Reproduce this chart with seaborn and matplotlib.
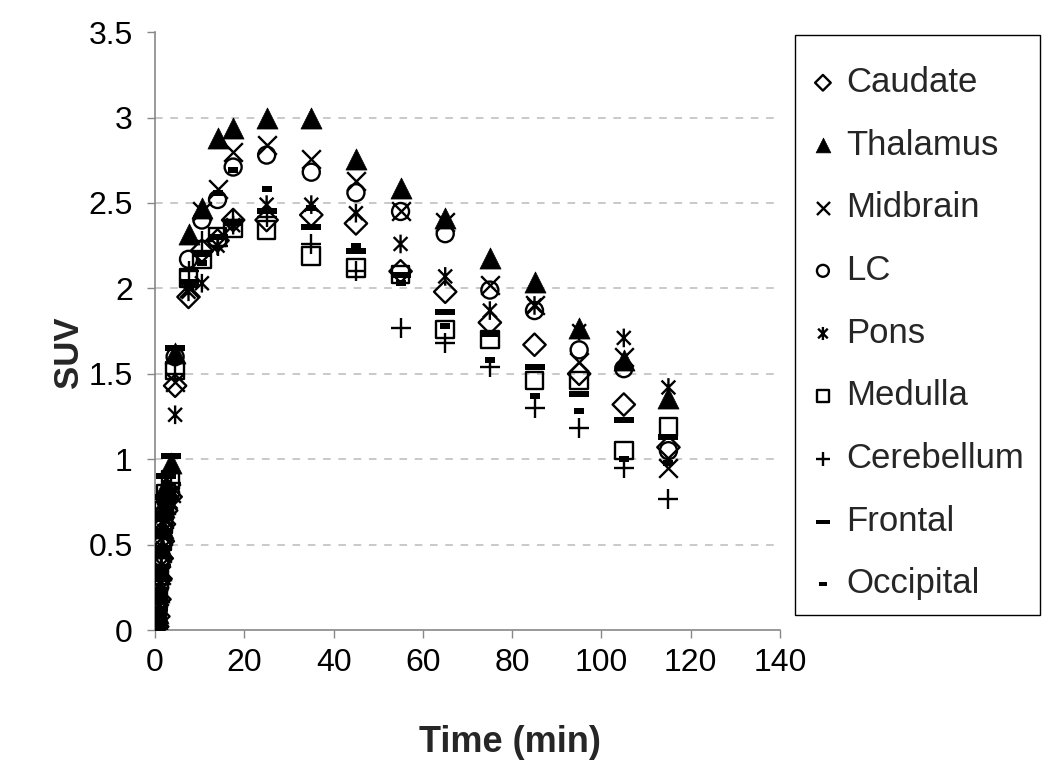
import numpy as np
import pandas as pd
import matplotlib
matplotlib.use("Agg")
import matplotlib.pyplot as plt
from matplotlib.path import Path
from matplotlib.patches import Rectangle
import seaborn as sns

# frame mid-times (min)
time_min = [0.25, 0.5, 0.75, 1, 1.25, 1.5, 1.75, 2, 2.5, 3.5, 4.5,
            7.5, 10.5, 14, 17.5, 25, 35, 45, 55, 65, 75, 85, 95, 105, 115]

# SUV per region
caudate = [0.0, 0.02, 0.08, 0.18, 0.3, 0.42, 0.52, 0.62, 0.7, 0.78, 1.43,
           1.95, 2.22, 2.28, 2.4, 2.4, 2.43, 2.38, 2.1, 1.98, 1.8, 1.67, 1.5, 1.32, 1.07]
thalamus = [0.0, 0.03, 0.1, 0.22, 0.35, 0.48, 0.6, 0.72, 0.85, 0.98, 1.62,
            2.32, 2.47, 2.88, 2.94, 3.0, 3.0, 2.76, 2.59, 2.41, 2.18, 2.04, 1.77, 1.58, 1.36]
midbrain = [0.0, 0.02, 0.1, 0.2, 0.32, 0.45, 0.55, 0.65, 0.73, 0.8, 1.45,
            2.0, 2.45, 2.58, 2.8, 2.84, 2.76, 2.63, 2.45, 2.39, 2.02, 1.9, 1.57, 1.6, 0.95]
lc = [0.0, 0.03, 0.12, 0.25, 0.38, 0.5, 0.6, 0.68, 0.75, 0.8, 1.6,
      2.17, 2.4, 2.52, 2.71, 2.78, 2.68, 2.56, 2.45, 2.32, 1.99, 1.87, 1.64, 1.53, 1.05]
pons = [0.0, 0.01, 0.06, 0.15, 0.27, 0.38, 0.48, 0.58, 0.68, 0.75, 1.26,
        1.98, 2.03, 2.25, 2.37, 2.49, 2.49, 2.44, 2.26, 2.07, 1.87, 1.9, 1.75, 1.71, 1.42]
medulla = [0.02, 0.08, 0.18, 0.3, 0.42, 0.52, 0.62, 0.7, 0.8, 0.88, 1.52,
           2.06, 2.17, 2.3, 2.35, 2.34, 2.19, 2.12, 2.08, 1.76, 1.7, 1.46, 1.46, 1.05, 1.19]
cerebellum = [0.01, 0.06, 0.15, 0.27, 0.38, 0.48, 0.58, 0.66, 0.76, 0.86, 1.5,
              2.1, 2.28, 2.25, 2.4, 2.42, 2.26, 2.1, 1.77, 1.68, 1.54, 1.3, 1.18, 0.95, 0.77]
frontal = [0.02, 0.1, 0.22, 0.35, 0.48, 0.58, 0.68, 0.78, 0.9, 1.02, 1.65,
           2.04, 2.2, 2.3, 2.38, 2.45, 2.36, 2.22, 2.08, 1.86, 1.73, 1.54, 1.38, 1.23, 1.13]
occipital = [0.01, 0.08, 0.2, 0.32, 0.45, 0.55, 0.65, 0.75, 0.86, 0.95, 1.6,
             2.0, 2.15, 2.56, 2.69, 2.58, 2.47, 2.25, 2.03, 1.78, 1.58, 1.37, 1.28, 1.0, 0.98]

regions = ["Caudate", "Thalamus", "Midbrain", "LC", "Pons", "Medulla",
           "Cerebellum", "Frontal", "Occipital"]
x_ticks = [0, 20, 40, 60, 80, 100, 120, 140]
y_ticks = [0, 0.5, 1, 1.5, 2, 2.5, 3, 3.5]
y_labels = ["0", "0.5", "1", "1.5", "2", "2.5", "3", "3.5"]

df = pd.DataFrame({"time": time_min, "Caudate": caudate, "Thalamus": thalamus,
                   "Midbrain": midbrain, "LC": lc, "Pons": pons, "Medulla": medulla,
                   "Cerebellum": cerebellum, "Frontal": frontal, "Occipital": occipital})
long_df = df.melt(id_vars="time", var_name="region", value_name="suv")

# Excel-like markers: asterisk (x plus vertical bar) and two dash widths
star = Path([(-1, -1), (1, 1), (-1, 1), (1, -1), (0, -1.35), (0, 1.35)],
            [Path.MOVETO, Path.LINETO, Path.MOVETO, Path.LINETO, Path.MOVETO, Path.LINETO])
long_dash = Path([(-1, -0.3), (1, -0.3), (1, 0.3), (-1, 0.3), (-1, -0.3)],
                 [Path.MOVETO, Path.LINETO, Path.LINETO, Path.LINETO, Path.CLOSEPOLY])
short_dash = Path([(-1, -0.5), (1, -0.5), (1, 0.5), (-1, 0.5), (-1, -0.5)],
                  [Path.MOVETO, Path.LINETO, Path.LINETO, Path.LINETO, Path.CLOSEPOLY])

styles = {
    "Caudate":    dict(marker="D", s=130, facecolors="none", lw=1.7),
    "Thalamus":   dict(marker="^", s=230, facecolors="black", lw=0.5),
    "Midbrain":   dict(marker="x", s=180, facecolors="black", lw=1.7),
    "LC":         dict(marker="o", s=150, facecolors="none", lw=1.7),
    "Pons":       dict(marker=star, s=180, facecolors="none", lw=1.7),
    "Medulla":    dict(marker="s", s=160, facecolors="none", lw=1.7),
    "Cerebellum": dict(marker="+", s=190, facecolors="black", lw=1.7),
    "Frontal":    dict(marker=long_dash, s=220, facecolors="black", lw=0),
    "Occipital":  dict(marker=short_dash, s=60, facecolors="black", lw=0),
}

sns.set_theme(style="white")
plt.rcParams["font.family"] = ["Liberation Sans", "DejaVu Sans"]

fig = plt.figure(figsize=(10.5, 7.75), dpi=100)
ax = fig.add_axes([0.1476, 0.187, 0.5953, 0.7716])

for r in regions:
    sub = long_df[long_df["region"] == r]
    sns.scatterplot(data=sub, x="time", y="suv", ax=ax, color="black",
                    edgecolor="black", label=r, zorder=3, **styles[r])

ax.set_xlim(-0.01, 140)
ax.set_ylim(0, 3.5)
ax.set_xticks(x_ticks)
ax.set_yticks(y_ticks)
ax.set_yticklabels(y_labels)
ax.tick_params(axis="both", labelsize=23, labelcolor="black", color="#888888",
               length=6, width=1, direction="out", left=True, bottom=True)
ax.tick_params(axis="y", pad=10)
ax.tick_params(axis="x", pad=7)
ax.yaxis.grid(True, linestyle=(0, (5, 5)), color="#bbbbbb", linewidth=1.1)
gl = ax.get_ygridlines()
gl[0].set_visible(False)
gl[-1].set_visible(False)
ax.set_axisbelow(True)
for side in ["top", "right"]:
    ax.spines[side].set_visible(False)
for side in ["left", "bottom"]:
    ax.spines[side].set_color("#888888")
    ax.spines[side].set_linewidth(1.2)

ax.set_xlabel("Time (min)", fontsize=26, fontweight="bold", va="top")
ax.set_ylabel("SUV", fontsize=25, fontweight="bold")
ax.xaxis.set_label_coords(0.568, -0.158)
ax.yaxis.set_label_coords(-0.112, 0.465)

# legend entries without frame; Excel-style box drawn separately
leg = ax.legend(loc="upper left", bbox_to_anchor=(0.7705, 0.915),
                bbox_transform=fig.transFigure, fontsize=25, frameon=False,
                labelspacing=0.855, handletextpad=0.28, handlelength=0.8,
                borderpad=0, borderaxespad=0, markerscale=0.7)
fig.add_artist(Rectangle((795 / 1050, 1 - 615 / 775), 245 / 1050, 580 / 775,
                         transform=fig.transFigure, fill=False,
                         edgecolor="black", linewidth=1.0))

fig.savefig("out.png", dpi=100)
